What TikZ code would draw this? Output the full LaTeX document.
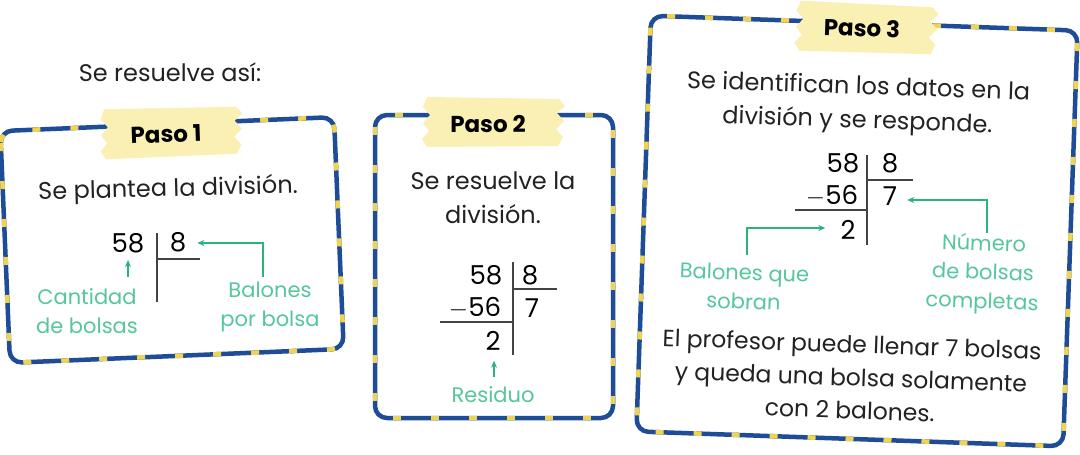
\documentclass[tikz,border=0pt]{standalone}
\usepackage{fontspec}
\setmainfont{Poppins}
\usetikzlibrary{arrows.meta,calc}
\definecolor{frameblue}{HTML}{1F4C96}
\definecolor{frameyellow}{HTML}{EED452}
\definecolor{tapecol}{HTML}{FAF0B4}
\definecolor{lblgreen}{HTML}{55C79A}
\definecolor{arrgreen}{HTML}{2BB37C}
\definecolor{inkcol}{HTML}{222222}
\begin{document}
\begin{tikzpicture}[x=1pt,y=-1pt,
  framebase/.style={draw=frameblue, line width=4.5pt, rounded corners=12pt},
  framedash/.style={draw=frameyellow, line width=4.5pt, dash pattern=on 8pt off 30pt, rounded corners=12pt},
  txt/.style={text=inkcol, font=\fontsize{24}{34}\selectfont, align=center, inner sep=1pt},
  lbl/.style={text=lblgreen, font=\fontsize{21}{29}\selectfont, align=center, inner sep=1pt},
  num/.style={text=black, font=\fontsize{26}{30}\selectfont, inner sep=1pt},
  tapetxt/.style={text=black, font=\bfseries\fontsize{23}{26}\selectfont, inner sep=1pt},
  arr/.style={draw=arrgreen, line width=1.2pt, -{Stealth[length=7pt,width=6pt]}},
  divl/.style={draw=inkcol!85, line width=1.2pt},
  tape/.pic={\fill[tapecol] (-66,-25) -- (66,-23) -- (72,-16) -- (64,-9) -- (71,-1) -- (63,7) -- (70,15) -- (65,24) -- (-66,25) -- (-71,17) -- (-64,9) -- (-70,1) -- (-63,-7) -- (-70,-15) -- cycle;}
]
\useasboundingbox[fill=white] (0,0) rectangle (1080,455);

% intro
\node[txt] (intro) at (170,72) {Se resuelve así:};

% ---------- Box 1 ----------
\begin{scope}[rotate around={2.4:(172,240)}]
  \draw[framebase] (5,124) rectangle (339,356);
  \draw[framedash] (5,124) rectangle (339,356);
\end{scope}
\pic[rotate=2] at (171,132) {tape};
\node[tapetxt, rotate=2] (p1) at (166,134) {Paso 1};
\node[txt, rotate=1.5] (t1) at (168,190) {Se plantea la división.};
\node[num] (a58) at (128,243) {58};
\node[num] (a8) at (178,242) {8};
\draw[divl] (157,233) -- (157,302);
\draw[divl] (157,259) -- (200,259);
\node[lbl] (cant) at (87,311) {Cantidad\\de bolsas};
\node[lbl] (balp) at (270,307) {Balones\\por bolsa};
\coordinate (cantT) at (128,277);
\coordinate (balT) at (263,277);
\draw[arr] (cantT) -- ($(a58.south)+(0,6)$);
\draw[arr] (balT) |- ($(a8.east)+(10,1)$);

% ---------- Box 2 ----------
\draw[framebase] (375,115) rectangle (613,418);
\draw[framedash] (375,115) rectangle (613,418);
\pic at (493,122) {tape};
\node[tapetxt] (p2) at (488,124) {Paso 2};
\node[txt] (t2) at (493,198) {Se resuelve la\\división.};
\node[num] (b58) at (486,275) {58};
\node[num] (b8) at (530,275) {8};
\node[num] (b56) at (475,308) {$-$56};
\node[num] (b7) at (532,308) {7};
\node[num] (b2) at (493,341) {2};
\draw[divl] (513,262) -- (513,355);
\draw[divl] (513,289) -- (557,289);
\draw[divl] (440,322) -- (513,322);
\node[lbl] (res) at (493,395) {Residuo};
\coordinate (resT) at (494,377);
\draw[arr] (resT) -- (resT |- {$(b2.south)+(0,9)$});

% ---------- Box 3 ----------
\begin{scope}[rotate around={-2:(857,231)}]
  \draw[framebase] (643.5,23) rectangle (1070.5,439);
  \draw[framedash] (643.5,23) rectangle (1070.5,439);
\end{scope}
\pic[rotate=-2] at (866,28) {tape};
\node[tapetxt, rotate=-2] (p3) at (862,28) {Paso 3};
\node[txt, rotate=-2] (t3) at (858,105) {Se identifican los datos en la\\división y se responde.};
\node[num] (c58) at (843,163) {58};
\node[num] (c8) at (890,163) {8};
\node[num] (c56) at (832,196) {$-$56};
\node[num] (c7) at (890,196) {7};
\node[num] (c2) at (848,230) {2};
\draw[divl] (867,155) -- (867,245);
\draw[divl] (867,180) -- (913,180);
\draw[divl] (795,210) -- (867,210);
\node[lbl, rotate=-2] (sob) at (744,287) {Balones que\\sobran};
\node[lbl, rotate=-2] (numb) at (983,274) {Número\\de bolsas\\completas};
\coordinate (sobT) at (747,255);
\coordinate (numT) at (987,233);
\draw[arr] (sobT) |- ($(c2.west)+(-14,-2)$);
\draw[arr] (numT) |- ($(c7.east)+(9,4)$);
\node[txt, rotate=-2, font=\fontsize{23.5}{33}\selectfont] (fin) at (851,377) {El profesor puede llenar 7 bolsas\\y queda una bolsa solamente\\con 2 balones.};
\end{tikzpicture}
\end{document}
